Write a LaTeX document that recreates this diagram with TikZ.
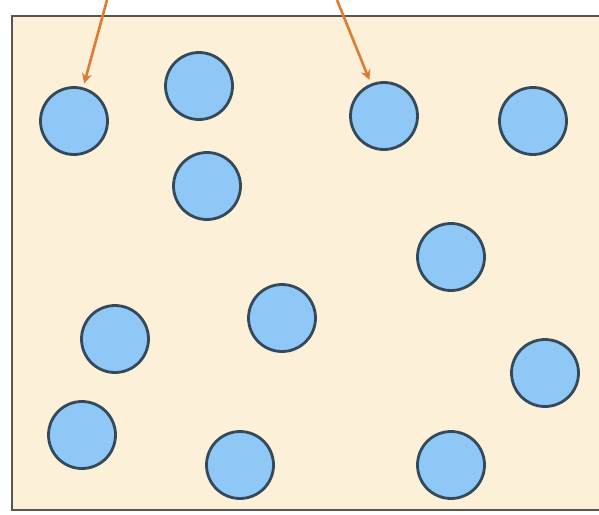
\documentclass[tikz,border=0pt]{standalone}
\usetikzlibrary{arrows.meta}
\definecolor{cream}{HTML}{FCF0D9}
\definecolor{ballfill}{HTML}{8FC7F6}
\definecolor{balledge}{HTML}{34495A}
\definecolor{frame}{HTML}{5A5550}
\definecolor{arrowc}{HTML}{DE7B34}
\begin{document}
\begin{tikzpicture}[x=1pt,y=-1pt,
  ball/.style={circle,draw=balledge,fill=ballfill,line width=2.8pt,minimum size=67pt,inner sep=0pt},
  pointer/.style={draw=arrowc,line width=2.6pt,-{Stealth[length=10pt,width=10pt]},shorten >=4pt}]
\useasboundingbox (0,0) rectangle (599,514);
\fill[white] (0,0) rectangle (599,514);
\fill[cream] (12,16) rectangle (599,510);
\draw[frame,line width=2.4pt] (604,16) -- (12,16) -- (12,510) -- (604,510);
\node[ball] (c1) at (74,121) {};
\node[ball] (c2) at (199,86) {};
\node[ball] (c3) at (384,116) {};
\node[ball] (c4) at (533,121) {};
\node[ball] (c5) at (207,186) {};
\node[ball] (c6) at (451,257) {};
\node[ball] (c7) at (115,339) {};
\node[ball] (c8) at (282,318) {};
\node[ball] (c9) at (545,373) {};
\node[ball] (c10) at (82,435) {};
\node[ball] (c11) at (240,465) {};
\node[ball] (c12) at (451,465) {};
\coordinate (s1) at (107,0);
\coordinate (s2) at (337,0);
\draw[pointer] (s1) -- (c1);
\draw[pointer] (s2) -- (c3);
\end{tikzpicture}
\end{document}
